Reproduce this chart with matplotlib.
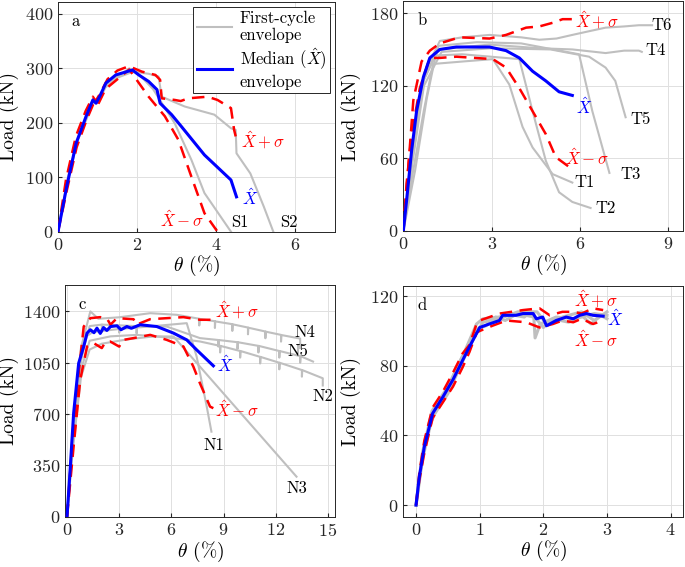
import matplotlib
matplotlib.use('Agg')
import matplotlib.pyplot as plt
import numpy as np

# ---- panel a ----
a_med_x = [0, 0.22, 0.46, 0.71, 0.88, 0.96, 1.05, 1.21, 1.46, 1.88, 2.04, 2.29, 2.5, 2.58, 2.87, 3.12, 3.7, 4.37, 4.51]
a_med_y = [0, 83, 163, 212, 242, 236, 248, 273, 288, 297, 288, 276, 261, 236, 215, 193, 141, 95, 64]
a_up_x = [0, 0.2, 0.45, 0.7, 0.88, 0.95, 1.05, 1.25, 1.5, 1.79, 2.12, 2.46, 2.58, 2.62, 2.95, 3.1, 3.29, 3.78, 4.03, 4.37, 4.45, 4.49]
a_up_y = [0, 95, 175, 222, 248, 240, 252, 280, 296, 304, 294, 288, 279, 245, 242, 240, 245, 248, 242, 227, 187, 175]
a_lo_x = [0, 0.22, 0.47, 0.72, 0.9, 1.0, 1.2, 1.5, 1.8, 2.29, 2.7, 3.04, 3.37, 3.7, 4.03]
a_lo_y = [0, 75, 155, 205, 236, 232, 262, 280, 298, 248, 212, 169, 101, 34, 0]
a_s1_x = [0, 0.25, 0.5, 0.75, 0.9, 1.0, 1.2, 1.5, 1.8, 2.1, 2.4, 2.95, 3.37, 3.7, 4.37]
a_s1_y = [0, 100, 170, 215, 240, 240, 268, 285, 300, 285, 262, 199, 132, 71, 0]
a_s2_x = [0, 0.25, 0.5, 0.75, 0.9, 1.0, 1.2, 1.5, 1.9, 2.3, 2.54, 2.62, 3.2, 3.95, 4.37, 4.49, 4.51, 4.86, 5.2, 5.44]
a_s2_y = [0, 95, 168, 212, 238, 236, 265, 283, 294, 290, 285, 248, 230, 215, 190, 187, 144, 107, 46, 0]

# ---- panel b ----
b_med_x = [0, 0.11, 0.28, 0.45, 0.68, 0.9, 1.24, 1.8, 2.93, 3.49, 3.94, 4.39, 4.84, 5.29, 5.74]
b_med_y = [0, 25, 66, 99, 127, 143, 150, 152, 152, 149, 143, 132, 124, 115, 112]
b_up_x = [0, 0.17, 0.34, 0.62, 0.9, 1.24, 1.91, 2.93, 3.49, 4.17, 4.62, 5.07, 5.41, 5.74]
b_up_y = [0, 53, 108, 140, 149, 155, 160, 159, 162, 168, 169, 172, 175, 175]
b_lo_x = [0, 0.11, 0.28, 0.56, 0.9, 1.24, 1.8, 3.04, 3.49, 3.94, 4.39, 4.84, 5.18, 5.74]
b_lo_y = [0, 39, 80, 118, 143, 143, 144, 142, 135, 118, 99, 80, 61, 51]
b_t1_x = [0, 0.3, 0.7, 1.01, 2.0, 3.04, 3.6, 4.05, 4.39, 5.07, 5.74]
b_t1_y = [0, 45, 100, 138, 140, 142, 121, 86, 69, 47, 40]
b_t2_x = [0, 0.4, 0.8, 1.1, 2.0, 3.94, 4.39, 4.84, 5.29, 5.74, 6.36]
b_t2_y = [0, 50, 110, 145, 146, 142, 99, 58, 32, 24, 19]
b_t3_x = [0, 0.3, 0.7, 1.2, 2.5, 4.0, 5.97, 6.42, 7.0]
b_t3_y = [0, 60, 125, 153, 156, 155, 146, 99, 48]
b_t5_x = [0, 0.3, 0.7, 1.3, 3.0, 5.0, 6.31, 6.87, 7.2, 7.55]
b_t5_y = [0, 55, 120, 148, 151, 150, 144, 135, 124, 94]
b_t4_x = [0, 0.3, 0.7, 1.2, 2.93, 4.62, 5.74, 6.5, 6.87, 7.5, 8.0, 8.1]
b_t4_y = [0, 58, 125, 150, 154, 151, 150, 148, 147, 149, 149, 148]
b_t6_x = [0, 0.3, 0.7, 1.24, 2.0, 2.93, 4.0, 4.62, 5.2, 5.74, 6.3, 6.87, 7.5, 8.0, 8.45]
b_t6_y = [0, 62, 130, 157, 160, 162, 160, 158, 159, 162, 165, 168, 169, 170, 170]

# ---- panel c ----
c_med_x = [0, 0.19, 0.38, 0.67, 0.96, 1.15, 1.34, 1.55, 1.72, 1.91, 2.1, 2.29, 2.5, 2.87, 3.1, 3.44, 3.7, 4.2, 5.16, 6.12, 6.88, 7.45, 8.41]
c_med_y = [0, 341, 706, 1047, 1161, 1252, 1275, 1255, 1286, 1250, 1290, 1270, 1297, 1302, 1275, 1297, 1285, 1309, 1297, 1252, 1206, 1138, 1029]
c_up_x = [0, 0.3, 0.67, 0.96, 1.34, 1.91, 2.3, 2.5, 2.87, 3.82, 4.0, 4.78, 5.73, 6.69, 7.64, 8.41]
c_up_y = [0, 500, 979, 1297, 1354, 1361, 1350, 1310, 1354, 1347, 1310, 1347, 1354, 1361, 1343, 1343]
c_lo_x = [0, 0.38, 0.76, 1.15, 1.53, 2.0, 2.2, 2.48, 3.0, 3.2, 3.82, 4.78, 5.73, 6.69, 7.26, 7.64, 8.22, 8.41]
c_lo_y = [0, 480, 933, 1161, 1184, 1150, 1190, 1195, 1160, 1205, 1218, 1240, 1206, 1161, 1024, 910, 751, 740]
c_n1_x = [0, 0.3, 0.7, 1.1, 1.5, 3.0, 5.0, 6.88, 7.45, 8.03, 8.3]
c_n1_y = [0, 520, 1000, 1230, 1260, 1280, 1300, 1320, 1092, 751, 580]
c_n3_x = [0, 0.35, 0.8, 1.3, 2.0, 3.5, 5.0, 6.12, 13.19]
c_n3_y = [0, 480, 950, 1140, 1180, 1210, 1230, 1229, 273]
c_n4_x = [0, 0.3, 0.8, 1.34, 1.8, 3.0, 4.78, 6.31, 7.6, 7.6, 7.62, 8.5, 8.5, 8.52, 9.5, 9.5, 9.52,
          10.4, 10.4, 10.42, 11.4, 11.4, 11.42, 12.3, 12.3, 12.32, 13.4, 13.4]
c_n4_y = [0, 550, 1150, 1400, 1350, 1360, 1388, 1377, 1350, 1304, 1349, 1333, 1287, 1332, 1313, 1267, 1312,
          1290, 1244, 1289, 1263, 1217, 1262, 1240, 1194, 1239, 1215, 1150]
c_n5_x = [0, 0.3, 0.8, 1.3, 2.0, 2.0, 2.02, 3.0, 3.0, 3.02, 4.0, 4.0, 4.02, 5.73, 7.64, 8.7, 8.7, 8.72,
          9.8, 9.8, 9.82, 11.0, 11.0, 11.02, 12.2, 12.2, 12.22, 13.4, 13.4, 13.42, 14.14]
c_n5_y = [0, 510, 1080, 1300, 1310, 1260, 1310, 1305, 1255, 1305, 1300, 1250, 1300, 1297, 1218, 1205, 1160, 1205,
          1190, 1145, 1190, 1165, 1120, 1165, 1130, 1085, 1130, 1095, 1050, 1095, 1058]
c_n2_x = [0, 0.3, 0.8, 1.3, 2.5, 4.0, 6.0, 7.64, 8.8, 8.8, 8.82, 9.95, 9.95, 9.97, 11.1, 11.1, 11.12,
          12.2, 12.2, 12.22, 13.5, 13.5, 13.52, 14.7, 14.7]
c_n2_y = [0, 450, 1000, 1200, 1230, 1240, 1220, 1195, 1165, 1120, 1165, 1130, 1085, 1130, 1090, 1045, 1090,
          1050, 1005, 1050, 1000, 955, 1000, 944, 895]

# ---- panel d ----
d_med_x = [0, 0.05, 0.13, 0.26, 0.42, 0.58, 0.73, 0.84, 1.0, 1.15, 1.31, 1.36, 1.57, 1.68, 1.84, 1.89, 1.99, 2.05, 2.2, 2.36, 2.47, 2.57, 2.68, 2.78, 2.94]
d_med_y = [0, 16, 33.5, 52.6, 62, 72, 83, 91, 102, 104, 106, 109, 109, 110, 110, 107, 108, 103, 106, 108, 107, 109, 110, 109, 108.5]
d_up_x = [0, 0.05, 0.13, 0.26, 0.42, 0.58, 0.73, 0.84, 0.95, 1.0, 1.31, 1.5, 1.68, 1.94, 2.1, 2.3, 2.47, 2.6, 2.78, 2.94]
d_up_y = [0, 18, 37, 56, 65, 76, 87, 92, 104, 106, 110, 111, 112, 113, 109, 111, 111, 110, 113, 112]
d_lo_x = [0, 0.05, 0.13, 0.26, 0.42, 0.58, 0.73, 0.84, 0.95, 1.0, 1.2, 1.42, 1.73, 1.94, 2.15, 2.3, 2.47, 2.6, 2.78, 2.94]
d_lo_y = [0, 14, 30, 50, 59, 68, 79, 88, 99, 100, 103, 106, 105, 102, 104, 106, 105, 107, 104, 106]
d_g1_x = [0, 0.1, 0.25, 0.5, 0.75, 0.95, 1.05, 1.3, 1.6, 1.85, 1.87, 1.95, 2.2, 2.5, 2.8, 3.0]
d_g1_y = [0, 30, 54, 68, 87, 104, 107, 108, 110, 108, 96, 104, 108, 107, 110, 109]
d_g2_x = [0, 0.1, 0.25, 0.5, 0.75, 0.95, 1.05, 1.3, 1.6, 1.9, 2.05, 2.3, 2.6, 2.8, 3.0]
d_g2_y = [0, 26, 50, 64, 84, 99, 105, 107, 111, 111, 104, 108, 111, 106, 111]
d_g3_x = [0, 0.1, 0.2, 0.35, 0.5, 0.65, 0.8, 0.95, 1.1, 1.25, 1.4, 1.55, 1.7, 1.8, 2.0, 2.15, 2.4, 2.6, 2.75, 2.9, 3.0]
d_g3_y = [0, 28, 44, 58, 66, 80, 90, 101, 103, 108, 106, 109, 108, 111, 102, 107, 105, 109, 104, 109, 107]

GRAY = (0.75, 0.75, 0.75)
BLUE = (0, 0, 1)
RED = (1, 0, 0)
DARK = (0.15, 0.15, 0.15)


def draw(ax, grays, med, up, lo, glw=1.5):
    for gx, gy in grays:
        ax.plot(gx, gy, color=GRAY, lw=glw, zorder=2)
    ax.plot(up[0], up[1], color=RED, lw=1.8, ls=(0, (5, 3)), zorder=3)
    ax.plot(lo[0], lo[1], color=RED, lw=1.8, ls=(0, (5, 3)), zorder=3)
    ax.plot(med[0], med[1], color=BLUE, lw=2.2, zorder=4)


def style(ax, xlim, ylim, xticks, yticks, letter, ylab_x):
    ax.set_xlim(xlim)
    ax.set_ylim(ylim)
    ax.set_xticks(xticks)
    ax.set_yticks(yticks)
    ax.grid(True, color=(0.88, 0.88, 0.88), lw=0.7)
    ax.set_axisbelow(True)
    ax.tick_params(direction='in', length=3, labelsize=13, colors=DARK, pad=3.5)
    for s in ax.spines.values():
        s.set_color(DARK)
        s.set_linewidth(0.7)
    ax.set_xlabel(r'$\theta$ (%)', fontsize=14, labelpad=1)
    ax.set_ylabel('Load (kN)', fontsize=14)
    ax.yaxis.set_label_coords(ylab_x, 0.5)
    ax.text(0.05, 0.95, letter, transform=ax.transAxes, fontsize=12, va='top', ha='left')


def main():
    plt.rcParams['font.family'] = 'serif'
    plt.rcParams['font.serif'] = ['cmr10', 'DejaVu Serif']
    plt.rcParams['mathtext.fontset'] = 'cm'
    plt.rcParams['axes.formatter.use_mathtext'] = True

    fig = plt.figure(figsize=(6.85, 5.67), dpi=100)
    ax_a = fig.add_axes([0.0847, 0.5914, 0.4044, 0.4051])
    ax_b = fig.add_axes([0.5888, 0.5926, 0.4083, 0.4056])
    ax_c = fig.add_axes([0.0953, 0.0887, 0.3937, 0.4086])
    ax_d = fig.add_axes([0.5888, 0.0887, 0.4088, 0.4074])

    fs = 12
    # panel a
    draw(ax_a, [(a_s1_x, a_s1_y), (a_s2_x, a_s2_y)], (a_med_x, a_med_y), (a_up_x, a_up_y), (a_lo_x, a_lo_y))
    style(ax_a, (0, 7), (0, 422), [0, 2, 4, 6], [0, 100, 200, 300, 400], 'a', -0.14)
    ax_a.text(4.6, 8, 'S1', fontsize=fs, ha='center')
    ax_a.text(5.83, 8, 'S2', fontsize=fs, ha='center')
    ax_a.text(4.65, 63, r'$\hat{X}$', color=BLUE, fontsize=fs, va='center')
    ax_a.text(3.14, 22, r'$\hat{X}-\sigma$', color=RED, fontsize=fs, ha='center', va='center')
    ax_a.text(4.62, 168, r'$\hat{X}+\sigma$', color=RED, fontsize=fs, va='center')
    h1, = ax_a.plot([], [], color=GRAY, lw=1.5)
    h2, = ax_a.plot([], [], color=BLUE, lw=2.2)
    leg = ax_a.legend([h1, h2], ['First-cycle\nenvelope', 'Median ($\\hat{X}$)\nenvelope'],
                      loc='upper right', fontsize=12, fancybox=False, framealpha=1,
                      edgecolor=DARK, borderaxespad=0.3, handlelength=2.1,
                      labelspacing=0.2, borderpad=0.2, handletextpad=0.5)
    leg.get_frame().set_linewidth(0.7)

    # panel b
    draw(ax_b, [(b_t1_x, b_t1_y), (b_t2_x, b_t2_y), (b_t3_x, b_t3_y), (b_t5_x, b_t5_y),
                (b_t4_x, b_t4_y), (b_t6_x, b_t6_y)],
         (b_med_x, b_med_y), (b_up_x, b_up_y), (b_lo_x, b_lo_y))
    style(ax_b, (0, 9.5), (0, 190), [0, 3, 6, 9], [0, 60, 120, 180], 'b', -0.15)
    for lab, lx, ly in [('T1', 6.14, 40), ('T2', 6.87, 19), ('T3', 7.71, 47), ('T5', 8.05, 92),
                        ('T4', 8.56, 149), ('T6', 8.78, 170)]:
        ax_b.text(lx, ly, lab, fontsize=fs, ha='center', va='center')
    ax_b.text(5.85, 103, r'$\hat{X}$', color=BLUE, fontsize=fs, va='center')
    ax_b.text(6.59, 174.5, r'$\hat{X}+\sigma$', color=RED, fontsize=fs, ha='center', va='center')
    ax_b.text(6.25, 61, r'$\hat{X}-\sigma$', color=RED, fontsize=fs, ha='center', va='center')

    # panel c
    draw(ax_c, [(c_n1_x, c_n1_y), (c_n3_x, c_n3_y), (c_n4_x, c_n4_y), (c_n5_x, c_n5_y), (c_n2_x, c_n2_y)],
         (c_med_x, c_med_y), (c_up_x, c_up_y), (c_lo_x, c_lo_y))
    style(ax_c, (-0.1, 15.4), (0, 1580), [0, 3, 6, 9, 12, 15], [0, 350, 700, 1050, 1400], 'c', -0.17)
    for lab, lx, ly in [('N1', 8.41, 489), ('N3', 13.19, 193), ('N4', 13.66, 1256),
                        ('N5', 13.28, 1127), ('N2', 14.71, 819)]:
        ax_c.text(lx, ly, lab, fontsize=fs, ha='center', va='center')
    ax_c.text(8.6, 1040, r'$\hat{X}$', color=BLUE, fontsize=fs, va='center')
    ax_c.text(9.75, 1411, r'$\hat{X}+\sigma$', color=RED, fontsize=fs, ha='center', va='center')
    ax_c.text(9.75, 728, r'$\hat{X}-\sigma$', color=RED, fontsize=fs, ha='center', va='center')

    # panel d
    draw(ax_d, [(d_g1_x, d_g1_y), (d_g2_x, d_g2_y), (d_g3_x, d_g3_y)],
         (d_med_x, d_med_y), (d_up_x, d_up_y), (d_lo_x, d_lo_y), glw=2.2)
    style(ax_d, (-0.2, 4.2), (-6.7, 126), [0, 1, 2, 3, 4], [0, 40, 80, 120], 'd', -0.15)
    ax_d.text(2.83, 118, r'$\hat{X}+\sigma$', color=RED, fontsize=fs, ha='center', va='center')
    ax_d.text(3.0, 107, r'$\hat{X}$', color=BLUE, fontsize=fs, va='center')
    ax_d.text(2.83, 95, r'$\hat{X}-\sigma$', color=RED, fontsize=fs, ha='center', va='center')

    fig.savefig('out.png', dpi=100)
    plt.close(fig)
    return 0


if __name__ == '__main__':
    exit(main())
